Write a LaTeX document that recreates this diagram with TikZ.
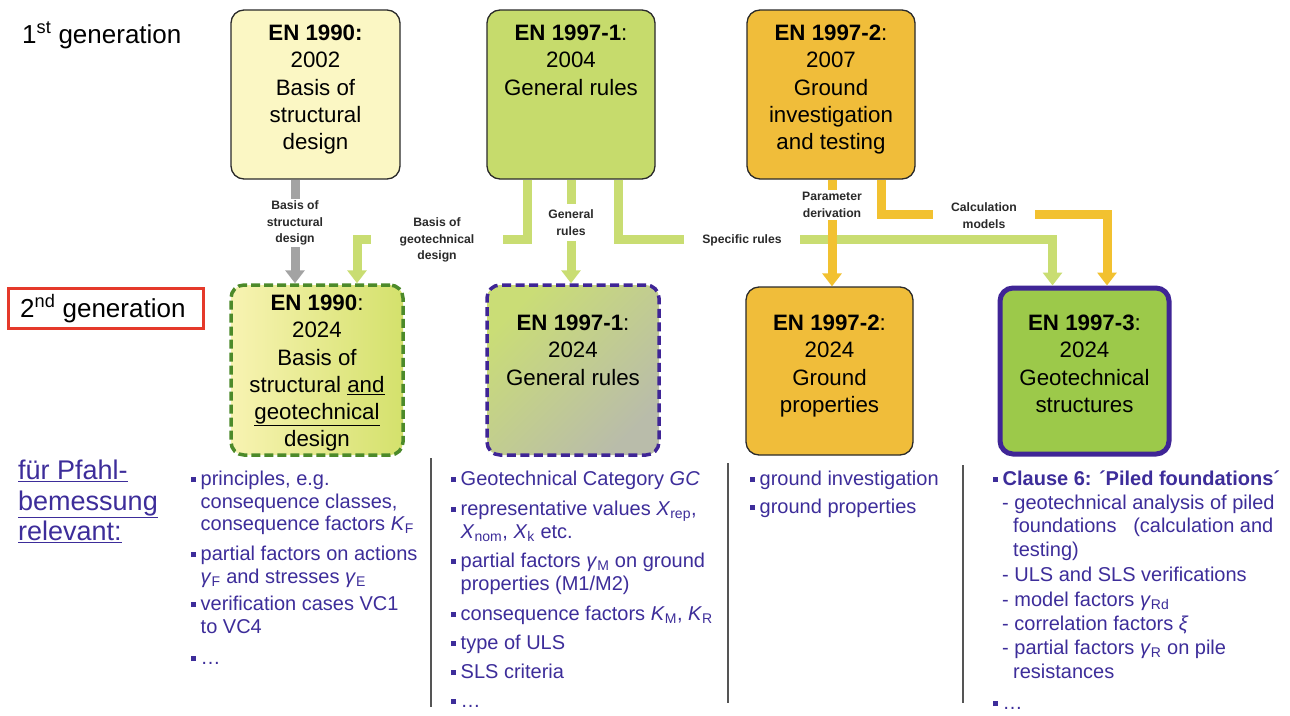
\documentclass[tikz,border=0pt]{standalone}
\usepackage{fontspec}
\setmainfont{Liberation Sans}
\usetikzlibrary{arrows.meta,calc}
\definecolor{aboxc}{HTML}{FBF7C4}
\definecolor{bboxc}{HTML}{C6DB6C}
\definecolor{cboxc}{HTML}{F0BD3A}
\definecolor{gboxc}{HTML}{9CC94A}
\definecolor{gconnc}{HTML}{C9DD72}
\definecolor{oconnc}{HTML}{F2C130}
\definecolor{grayconnc}{HTML}{A3A3A3}
\definecolor{dgreen}{HTML}{4C8A2A}
\definecolor{purp}{HTML}{3D2D9A}
\definecolor{bpurp}{HTML}{3F2596}
\definecolor{redc}{HTML}{E5392A}
\definecolor{lblc}{HTML}{2A2A2A}
\definecolor{linec}{HTML}{2A2A2A}
\definecolor{sepc}{HTML}{555555}
\definecolor{dleft}{HTML}{F8F3B2}
\definecolor{dright}{HTML}{D4E16C}
\definecolor{etop}{HTML}{CADD76}
\definecolor{ebot}{HTML}{B9BCAA}
\newcommand\subsc[1]{\textsubscript{#1}}
\newcommand\bul{\raisebox{3.5pt}{\rule{5pt}{5pt}}\hspace{4.5pt}}
\begin{document}
\begin{tikzpicture}[x=1pt,y=-1pt,
  box/.style={rectangle, rounded corners=13pt, inner sep=0pt},
  thinbox/.style={box, draw=linec, line width=1.3pt},
  btext/.style={align=center, font=\fontsize{22.3}{27.2}\selectfont, inner sep=0pt, anchor=north},
  lbl/.style={font=\fontsize{12.2}{16.5}\selectfont\bfseries, align=center, fill=white, inner sep=1.5pt, text=lblc},
  conn/.style={line width=9pt, -{Triangle[width=19pt,length=13pt]}},
  gconn/.style={conn, draw=gconnc},
  oconn/.style={conn, draw=oconnc},
  grconn/.style={conn, draw=grayconnc},
  lt/.style={anchor=mid west, font=\fontsize{20}{24}\selectfont, text=purp, inner sep=0pt},
  sepline/.style={draw=sepc, line width=1.2pt},
  gen/.style={anchor=base west, font=\fontsize{26}{30}\selectfont, inner sep=0pt}
]
\useasboundingbox[fill=white] (0,0) rectangle (1290,715);

% generation labels
\node[gen] (g1) at (22,43) {1\textsuperscript{st} generation};
\node[draw=redc, line width=3pt, minimum width=195pt, minimum height=40pt, inner sep=0pt] (redbox) at (105.5,308) {};
\node[gen] (g2) at (20,317) {2\textsuperscript{nd} generation};

% first generation boxes
\node[thinbox, fill=aboxc, minimum width=169pt, minimum height=169pt] (A) at (315.5,94.5) {};
\node[thinbox, fill=bboxc, minimum width=168pt, minimum height=169pt] (B) at (571,94.5) {};
\node[thinbox, fill=cboxc, minimum width=168pt, minimum height=169pt] (C) at (831,94.5) {};

% second generation boxes
\node[box, draw=dgreen, line width=3.5pt, dash pattern=on 9pt off 4pt, left color=dleft, right color=dright, minimum width=172pt, minimum height=170pt] (D) at (317,370) {};
\node[box, draw=bpurp, line width=3.5pt, dash pattern=on 9pt off 4.5pt, top color=etop, bottom color=ebot, shading angle=45, minimum width=172pt, minimum height=170pt] (E) at (573,370) {};
\node[thinbox, fill=cboxc, minimum width=167pt, minimum height=168pt] (F) at (829.5,371) {};
\node[box, draw=bpurp, line width=5pt, fill=gboxc, minimum width=169pt, minimum height=166pt] (G) at (1084.5,371) {};

% box texts
\node[btext] (At) at (315.5,25) {\textbf{EN 1990:}\\2002\\Basis of\\structural\\design};
\node[btext] (Bt) at (571,25) {\textbf{EN 1997-1}:\\2004\\General rules};
\node[btext] (Ct) at (831,25) {\textbf{EN 1997-2}:\\2007\\Ground\\investigation\\and testing};
\node[btext] (Dt) at (317,295) {\textbf{EN 1990}:\\2024\\Basis of\\structural \underline{and}\\\underline{geotechnical}\\design};
\node[btext] (Et) at (573,315) {\textbf{EN 1997-1}:\\2024\\General rules};
\node[btext] (Ft) at (829.5,315) {\textbf{EN 1997-2}:\\2024\\Ground\\properties};
\node[btext] (Gt) at (1084.5,315) {\textbf{EN 1997-3}:\\2024\\Geotechnical\\structures};

% connectors
\draw[grconn] ([xshift=-20.5pt]A.south) -- ([xshift=-22pt]D.north);
\draw[gconn] ([xshift=-44pt]B.south) -- ++(0,60) -| ([xshift=40pt]D.north);
\draw[gconn] (B.south) -- ([xshift=-2pt]E.north);
\draw[gconn] ([xshift=47pt]B.south) -- ++(0,60) -| ([xshift=-32pt]G.north);
\draw[oconn] ([xshift=1pt]C.south) -- ([xshift=2.5pt]F.north);
\draw[oconn] ([xshift=50pt]C.south) -- ++(0,35) -| ([xshift=22.5pt]G.north);

% connector labels
\node[lbl] (l1) at (295,223) {Basis of\\structural\\design};
\node[lbl, inner xsep=29pt] (l2) at (437,240) {Basis of\\geotechnical\\design};
\node[lbl, inner ysep=6pt] (l3) at (571,222.5) {General\\rules};
\node[lbl, inner xsep=18pt] (l4) at (742,240) {Specific rules};
\node[lbl, inner ysep=2.5pt] (l5) at (832,205) {Parameter\\derivation};
\node[lbl, inner xsep=18pt] (l6) at (984,215.5) {Calculation\\models};

% left heading
\node[lt, font=\fontsize{27}{30}\selectfont] (h1) at (18,477) {\underline{für Pfahl-}};
\node[lt, font=\fontsize{27}{30}\selectfont] (h2) at (18,508) {\underline{bemessung}};
\node[lt, font=\fontsize{27}{30}\selectfont] (h3) at (18,538) {\underline{relevant:}};

% separators
\draw[sepline] (431,458) -- (431,707);
\draw[sepline] (728,463) -- (728,703);
\draw[sepline] (963,465) -- (963,703);

% column 1
\node[lt] (a1) at (191,483) {\bul principles, e.g.};
\node[lt] (a2) at (200.5,505.5) {consequence classes,};
\node[lt] (a3) at (200.5,528) {consequence factors \textit{K}\subsc{F}};
\node[lt] (a4) at (191,558) {\bul partial factors on actions};
\node[lt] (a5) at (200.5,580.5) {\textit{γ}\subsc{F} and stresses \textit{γ}\subsc{E}};
\node[lt] (a6) at (191,608) {\bul verification cases VC1};
\node[lt] (a7) at (200.5,630.5) {to VC4};
\node[lt] (a8) at (191,662) {\bul …};

% column 2
\node[lt] (b1) at (451,483) {\bul Geotechnical Category \textit{GC}};
\node[lt] (b2) at (451,513) {\bul representative values \textit{X}\subsc{rep},};
\node[lt] (b3) at (460.5,535.5) {\textit{X}\subsc{nom}, \textit{X}\subsc{k} etc.};
\node[lt] (b4) at (451,565) {\bul partial factors \textit{γ}\subsc{M} on ground};
\node[lt] (b5) at (460.5,587.5) {properties (M1/M2)};
\node[lt] (b6) at (451,618) {\bul consequence factors \textit{K}\subsc{M}, \textit{K}\subsc{R}};
\node[lt] (b7) at (451,647) {\bul type of ULS};
\node[lt] (b8) at (451,676) {\bul SLS criteria};
\node[lt] (b9) at (451,705) {\bul …};

% column 3
\node[lt] (c1) at (750,483) {\bul ground investigation};
\node[lt] (c2) at (750,511) {\bul ground properties};

% column 4
\node[lt] (d1) at (993,483) {\bul\textbf{Clause 6: ´Piled foundations´}};
\node[lt] (d2) at (1002,506.5) {- geotechnical analysis of piled};
\node[lt] (d3) at (1013,530) {foundations \ \ (calculation and};
\node[lt] (d4) at (1013,553.5) {testing)};
\node[lt] (d5) at (1002,579) {- ULS and SLS verifications};
\node[lt] (d6) at (1002,604) {- model factors \textit{γ}\subsc{Rd}};
\node[lt] (d7) at (1002,628) {- correlation factors \textit{ξ}};
\node[lt] (d8) at (1002,652) {- partial factors \textit{γ}\subsc{R} on pile};
\node[lt] (d9) at (1013,676) {resistances};
\node[lt] (d10) at (993,707) {\bul …};
\end{tikzpicture}
\end{document}
